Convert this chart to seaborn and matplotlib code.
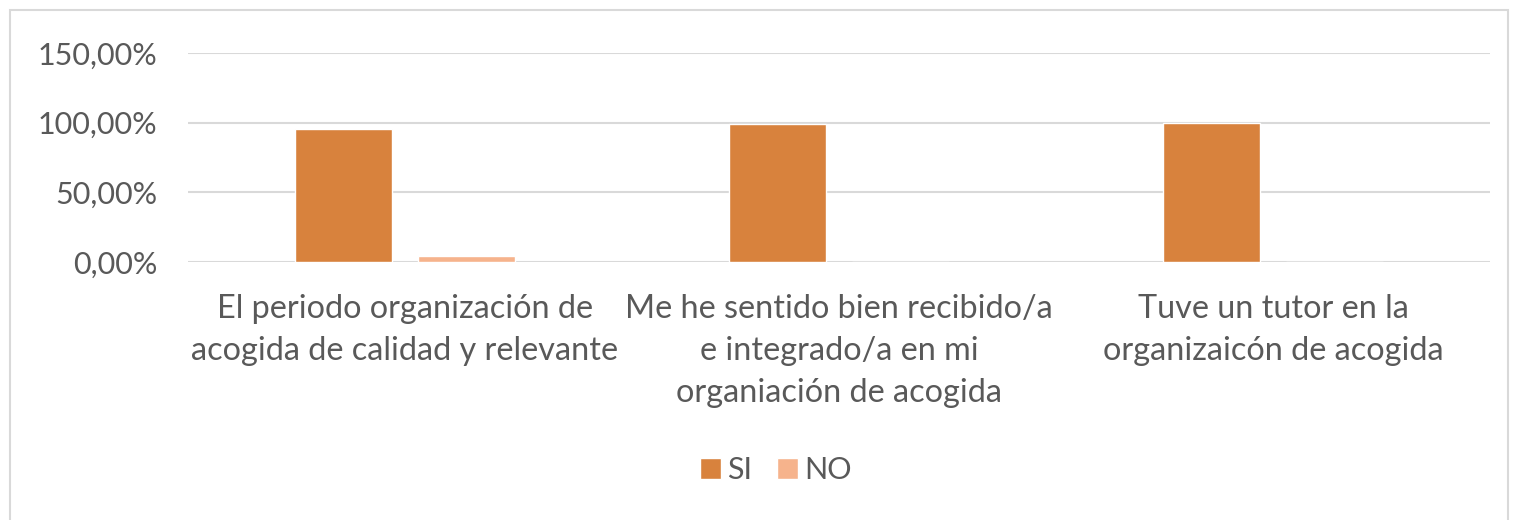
import matplotlib
matplotlib.use("Agg")
import matplotlib.pyplot as plt
from matplotlib.patches import Rectangle
from matplotlib.ticker import FuncFormatter
import seaborn as sns
import pandas as pd

# datos
categorias = [
    "El periodo organización de\nacogida de calidad y relevante",
    "Me he sentido bien recibido/a\ne integrado/a en mi\norganiación de acogida",
    "Tuve un tutor en la\norganizaicón de acogida",
]
si = [95.8, 99.0, 100.0]
no = [4.2, 0.0, 0.0]
series = ["SI", "NO"]
colores = ["#D8823D", "#F6B38C"]

df = pd.DataFrame({
    "categoria": categorias * 2,
    "serie": ["SI"] * 3 + ["NO"] * 3,
    "valor": si + no,
})

sns.set_theme(style="white")
plt.rcParams["font.family"] = ["Lato", "DejaVu Sans"]

fig = plt.figure(figsize=(15.18, 5.2), dpi=100)
ax = fig.add_axes([0.1238, 0.4962, 0.8578, 0.4019])

sns.barplot(data=df, x="categoria", y="valor", hue="serie", hue_order=series,
            palette=colores, width=0.57, gap=0.215, ax=ax, saturation=1)

ax.set_ylim(0, 150)
ax.set_yticks([0, 50, 100, 150])
ax.yaxis.set_major_formatter(FuncFormatter(lambda v, p: f"{v:.2f}%".replace(".", ",")))
ax.grid(axis="y", color="#d9d9d9", linewidth=1.5)
ax.set_axisbelow(True)
for s in ax.spines.values():
    s.set_visible(False)
ax.tick_params(axis="both", length=0, colors="#595959")
ax.tick_params(axis="y", pad=22, labelsize=22)
ax.tick_params(axis="x", pad=23, labelsize=23.3)
ax.set_xlabel("")
ax.set_ylabel("")
for t in ax.get_xticklabels():
    t.set_linespacing(1.5)

handles, labels = ax.get_legend_handles_labels()
ax.legend_.remove()
fig.legend(handles, labels, loc="center", bbox_to_anchor=(776 / 1518, 1 - 470 / 520),
           ncol=2, frameon=False, fontsize=22, labelcolor="#595959",
           handlelength=0.7, handleheight=0.7, handletextpad=0.2, columnspacing=0.8)

fig.patches.append(Rectangle((10 / 1518, -0.05), 1498 / 1518, 1.0 - 10 / 520 + 0.05,
                             transform=fig.transFigure, fill=False,
                             edgecolor="#d9d9d9", linewidth=1.5))

fig.savefig("out.png", dpi=100)
